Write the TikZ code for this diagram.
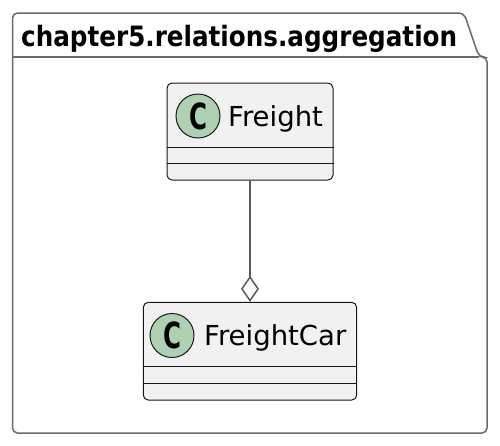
\documentclass[tikz,border=0pt]{standalone}
\usepackage{fontspec}
\setmainfont{DejaVu Sans}
\usetikzlibrary{arrows.meta}
\definecolor{boxfill}{HTML}{F1F1F1}
\definecolor{boxline}{HTML}{181818}
\definecolor{circfill}{HTML}{ADD1B2}
\definecolor{pkgline}{HTML}{6A6A6A}
\definecolor{connline}{HTML}{595959}
\tikzset{
  pkg/.style={draw=pkgline, line width=1.5pt, rounded corners=5pt},
  classbox/.style={draw=boxline, fill=boxfill, line width=1pt, rounded corners=5pt, inner sep=0pt},
  sepline/.style={draw=boxline, line width=1pt},
  cbadge/.style={circle, draw=boxline, fill=circfill, line width=1pt, minimum size=44pt, inner sep=0pt,
    font=\fontsize{36}{36}\selectfont\bfseries},
  cname/.style={inner sep=0pt, anchor=base west, font=\fontsize{27.5}{27.5}\selectfont},
  conn/.style={draw=connline, line width=1.5pt, -{Diamond[open, length=26pt, width=18pt]}},
}
\begin{document}
\begin{tikzpicture}[x=1pt,y=-1pt]
\useasboundingbox (0,0) rectangle (500,445);
% package
\draw[pkg] (12.5,57) -- (12.5,13) -- (464,13) -- (479,57) -- (487,57) -- (487,433) -- (12.5,433) -- cycle;
\draw[pkg] (12.5,57) -- (479,57);
\node[inner sep=0pt, anchor=base west, font=\fontsize{28}{28}\selectfont\bfseries] (title) at (21,46) {\scalebox{0.88}[1]{chapter5.relations.aggregation}};
% Freight
\node[classbox, minimum width=166pt, minimum height=97pt] (fr) at (250,131.5) {};
\draw[sepline] ([yshift=-65pt]fr.north west) -- ([yshift=-65pt]fr.north east);
\draw[sepline] ([yshift=-81pt]fr.north west) -- ([yshift=-81pt]fr.north east);
\node[cbadge] (frc) at (198,116) {\scalebox{0.68}[1]{C}};
\node[cname] (frn) at (228,126) {Freight};
% FreightCar
\node[classbox, minimum width=213.4pt, minimum height=97.7pt] (fc) at (250,351.2) {};
\draw[sepline] ([yshift=-65pt]fc.north west) -- ([yshift=-65pt]fc.north east);
\draw[sepline] ([yshift=-82pt]fc.north west) -- ([yshift=-82pt]fc.north east);
\node[cbadge] (fcc) at (172,335.5) {\scalebox{0.68}[1]{C}};
\node[cname] (fcn) at (204,345.5) {FreightCar};
% aggregation
\draw[conn] (fr.south) -- (fc.north);
\end{tikzpicture}
\end{document}
